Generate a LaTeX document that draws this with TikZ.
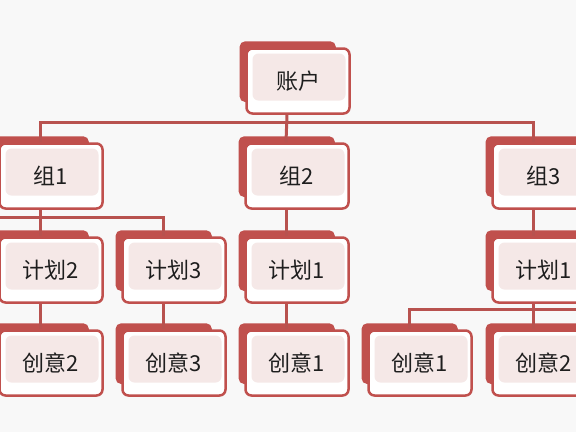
\documentclass[tikz,border=0pt]{standalone}
\usepackage{fontspec}
\newfontfamily\cjk{Noto Sans CJK SC}
\usetikzlibrary{shadows}
\definecolor{cardred}{RGB}{192,80,77}
\definecolor{cardpink}{RGB}{245,232,231}
\definecolor{linered}{RGB}{184,82,79}
\definecolor{bgcol}{RGB}{248,248,248}
\definecolor{txtcol}{RGB}{30,30,30}
\tikzset{
  card/.style={draw=cardred, line width=2.5pt, rounded corners=6pt, fill=white,
    minimum width=103pt, minimum height=65pt, inner sep=0pt,
    font=\cjk\fontsize{22}{26}\selectfont, text=txtcol,
    general shadow={fill=cardred, shadow xshift=-11pt, shadow yshift=10pt,
      shadow scale=0.935},
    path picture={\fill[cardpink] ([shift={(6pt,-5pt)}]path picture bounding box.north west)
      rectangle ([shift={(-4pt,13pt)}]path picture bounding box.south east);}},
  link/.style={draw=linered, line width=3pt}
}
\begin{document}
\begin{tikzpicture}[x=1pt,y=-1pt]
  \useasboundingbox[fill=bgcol] (0,0) rectangle (576,432);

  \foreach \n/\x/\y/\t in {acct/298/81/账户,
      g1/51/176/组1, g2/297/176/组2, g3/544/176/组3,
      p2/51/270/计划2, p3/174/270/计划3, p1/297/270/计划1, p4/544/270/计划1,
      i2/51/363/创意2, i3/174/363/创意3, i1/297/363/创意1,
      i4/420/363/创意1, i5/544/363/创意2} {
    \node[card] (\n) at (\x,\y) {\t};
  }

  \coordinate (west) at (0,217);
  \coordinate (east) at (576,309);

  \foreach \a/\b in {acct/g2, g1/p2, g2/p1, g3/p4, p2/i2, p3/i3, p1/i1, p4/i5} {
    \draw[link] ([xshift=-11pt]\a.south) -- ([xshift=-11pt]\b.north);
  }
  \draw[link] ([xshift=-11pt]g1.north) -- ++(0,-20) -| ([xshift=-11pt]g3.north);
  \draw[link] (west) -| ([xshift=-11pt]p3.north);
  \draw[link] (east) -| ([xshift=-11pt]i4.north);
\end{tikzpicture}
\end{document}
